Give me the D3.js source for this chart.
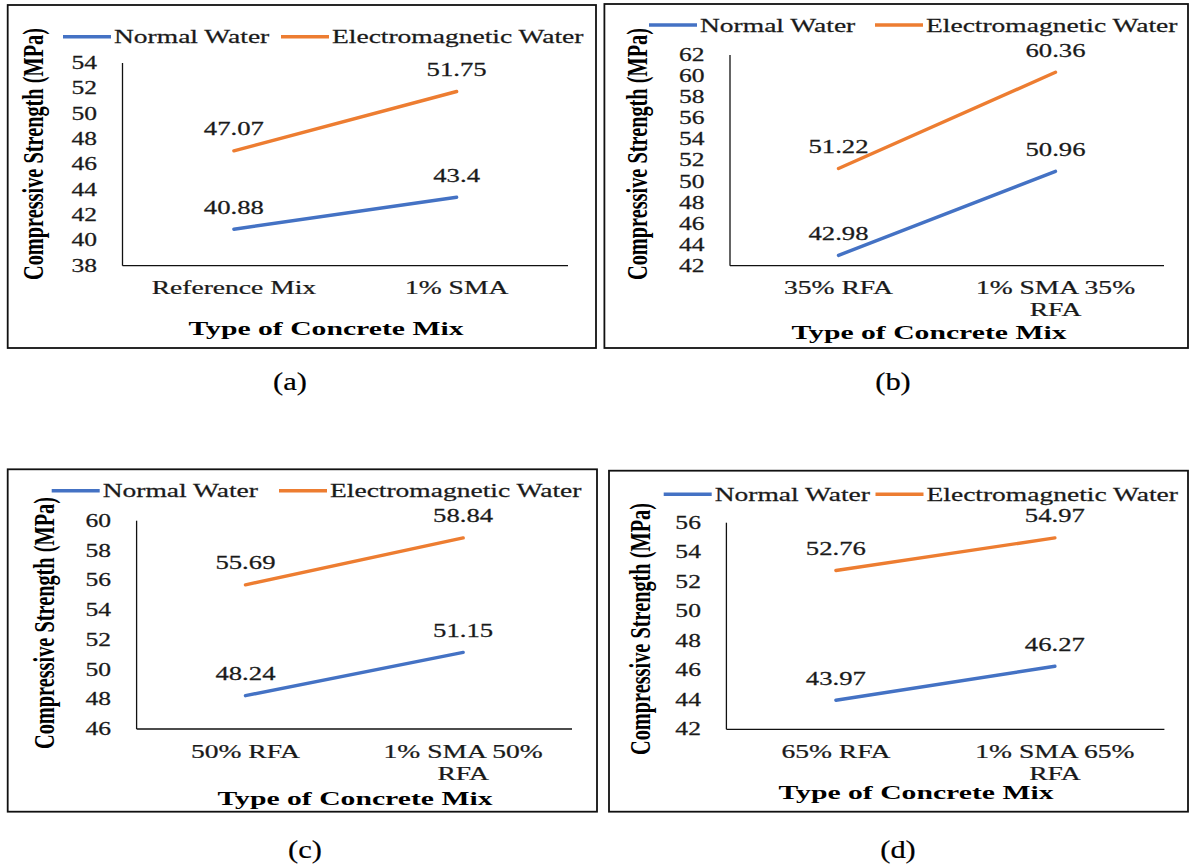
<!DOCTYPE html>
<html>
<head>
<meta charset="utf-8">
<script src="https://cdn.jsdelivr.net/npm/d3@7"></script>
<style>
  html, body { margin: 0; padding: 0; background: #fff; }
  svg { display: block; }
  text { font-family: "Liberation Serif", "Times New Roman", serif; }
</style>
</head>
<body>
<svg id="chart" width="1192" height="868"></svg>
<script>
// ---------------- DATA ----------------
const seriesNames = ["Normal Water", "Electromagnetic Water"];
const captions = ["(a)", "(b)", "(c)", "(d)"];
const yAxisTitle = "Compressive Strength (MPa)";
const xAxisTitle = "Type of Concrete Mix";

const categoriesA = ["Reference Mix", "1% SMA"];
const categoriesB = ["35% RFA", "1% SMA 35% RFA"];
const categoriesC = ["50% RFA", "1% SMA 50% RFA"];
const categoriesD = ["65% RFA", "1% SMA 65% RFA"];

const normalA = [40.88, 43.4];
const emA     = [47.07, 51.75];
const normalB = [42.98, 50.96];
const emB     = [51.22, 60.36];
const normalC = [48.24, 51.15];
const emC     = [55.69, 58.84];
const normalD = [43.97, 46.27];
const emD     = [52.76, 54.97];

const ticksA = [38, 40, 42, 44, 46, 48, 50, 52, 54];
const ticksB = [42, 44, 46, 48, 50, 52, 54, 56, 58, 60, 62];
const ticksC = [46, 48, 50, 52, 54, 56, 58, 60];
const ticksD = [42, 44, 46, 48, 50, 52, 54, 56];

// ---------------- LAYOUT / STYLE ----------------
const colors = ["#4472C4", "#ED7D31"];
const SX = 1.45; // horizontal glyph stretch of the original figure

const panels = [
  { cats: categoriesA, series: [normalA, emA], ticks: ticksA,
    box: [7.7, 5, 596, 348], xr: [122.5, 568], yr: [265.7, 63],
    legY: 36.7, legX: [63, 281], yT: [36.5, 154], xT: [326, 335], cap: [290, 390] },
  { cats: categoriesB, series: [normalB, emB], ticks: ticksB,
    box: [604.4, 4, 1188, 348], xr: [730, 1164], yr: [265.7, 55],
    legY: 25, legX: [649, 875], yT: [640, 154], xT: [929, 339], cap: [893, 390] },
  { cats: categoriesC, series: [normalC, emC], ticks: ticksC,
    box: [7.7, 469.3, 597, 811.7], xr: [136.6, 572], yr: [729, 520.7],
    legY: 490.7, legX: [51.7, 279], yT: [47, 623], xT: [355, 805], cap: [305, 858] },
  { cats: categoriesD, series: [normalD, emD], ticks: ticksD,
    box: [609, 470.7, 1188, 811.7], xr: [726.4, 1164.4], yr: [729.3, 522.7],
    legY: 494.3, legX: [663.7, 875.5], yT: [643, 629], xT: [916, 799], cap: [898, 858] }
];

const svg = d3.select("#chart");

function stretchedText(g, x, y, str, opts) {
  const s = opts.s || SX;
  const fill = opts.fill || "#1a1a1a";
  const t = g.append("text")
    .attr("transform", `translate(${x},${y}) scale(${s},1)`)
    .attr("font-size", opts.size)
    .attr("fill", fill)
    .attr("stroke", fill)
    .attr("stroke-width", opts.sw === undefined ? 0.25 : opts.sw)
    .attr("font-weight", opts.weight || "normal")
    .attr("text-anchor", opts.anchor || "start")
    .text(str);
  if (opts.dy) t.attr("dy", opts.dy);
  if (opts.len) t.attr("textLength", opts.len / s).attr("lengthAdjust", "spacingAndGlyphs");
  return t;
}

function wrapWords(str, size, maxW) {
  const tmp = svg.append("text").attr("font-size", size);
  const words = str.split(" ");
  const lines = [];
  let cur = "";
  words.forEach(w => {
    const test = cur ? cur + " " + w : w;
    tmp.text(test);
    if (tmp.node().getComputedTextLength() * SX > maxW && cur) {
      lines.push(cur);
      cur = w;
    } else cur = test;
  });
  if (cur) lines.push(cur);
  tmp.remove();
  return lines;
}

panels.forEach((p, i) => {
  const g = svg.append("g");
  // frame
  g.append("rect")
    .attr("x", p.box[0]).attr("y", p.box[1])
    .attr("width", p.box[2] - p.box[0]).attr("height", p.box[3] - p.box[1])
    .attr("fill", "none").attr("stroke", "#111").attr("stroke-width", 1.8);

  const x = d3.scalePoint().domain(p.cats).range(p.xr).padding(0.5);
  const y = d3.scaleLinear().domain([p.ticks[0], p.ticks[p.ticks.length - 1]]).range(p.yr);

  // axes lines (no tick marks)
  g.append("line").attr("x1", p.xr[0]).attr("x2", p.xr[0])
    .attr("y1", y.range()[0]).attr("y2", y.range()[1])
    .attr("stroke", "#111").attr("stroke-width", 1.3);
  g.append("line").attr("x1", p.xr[0]).attr("x2", p.xr[1])
    .attr("y1", y.range()[0]).attr("y2", y.range()[0])
    .attr("stroke", "#111").attr("stroke-width", 1.3);

  // y tick labels
  p.ticks.forEach(t => {
    stretchedText(g, p.xr[0] - 25.5, y(t), String(t),
      { size: 18, anchor: "end", dy: "0.34em", s: 1.42 });
  });

  // x category labels (wrapped)
  p.cats.forEach(c => {
    const lines = wrapWords(c, 19, 200);
    lines.forEach((ln, k) => {
      stretchedText(g, x(c), y.range()[0] + 28.5 + k * 22, ln,
        { size: 19, anchor: "middle" });
    });
  });

  // series lines + data labels
  const line = d3.line().x(d => x(d.c)).y(d => y(d.v));
  p.series.forEach((vals, si) => {
    const pts = vals.map((v, k) => ({ c: p.cats[k], v }));
    g.append("path").datum(pts)
      .attr("d", line)
      .attr("fill", "none")
      .attr("stroke", colors[si])
      .attr("stroke-width", 3.4)
      .attr("stroke-linecap", "round");
    pts.forEach(d => {
      stretchedText(g, x(d.c), y(d.v) - 15.5, String(d.v),
        { size: 19.5, anchor: "middle", s: 1.37 });
    });
  });

  // legend
  seriesNames.forEach((name, si) => {
    const lx = p.legX[si];
    g.append("line").attr("x1", lx).attr("x2", lx + 48)
      .attr("y1", p.legY).attr("y2", p.legY)
      .attr("stroke", colors[si]).attr("stroke-width", 3.4);
    stretchedText(g, lx + 51, p.legY + 6.5, name, { size: 19.5, s: 1.41 });
  });

  // y axis title (rotated, bold)
  g.append("text")
    .attr("transform", `translate(${p.yT[0]},${p.yT[1]}) scale(${SX},1) rotate(-90)`)
    .attr("font-size", 20)
    .attr("font-weight", "bold")
    .attr("fill", "#000")
    .attr("text-anchor", "middle")
    .attr("dy", "0.24em")
    .attr("textLength", 252)
    .attr("lengthAdjust", "spacingAndGlyphs")
    .text(yAxisTitle);

  // x axis title
  stretchedText(g, p.xT[0], p.xT[1], xAxisTitle,
    { size: 19.5, anchor: "middle", weight: "bold", fill: "#000", s: 1.5, len: 275, sw: 0 });

  // caption
  stretchedText(svg, p.cap[0], p.cap[1], captions[i],
    { size: 25, anchor: "middle", s: 1.22, fill: "#000", sw: 0.2 });
});
</script>
</body>
</html>
